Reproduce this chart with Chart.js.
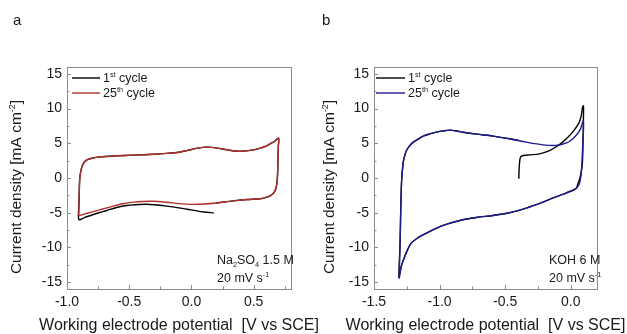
<!DOCTYPE html>
<html><head><meta charset="utf-8">
<script src="https://cdn.jsdelivr.net/npm/chart.js@4/dist/chart.umd.min.js"></script>
<style>
html,body{margin:0;padding:0;background:#fff;}
#wrap{position:relative;width:627px;height:334px;overflow:hidden;background:#fff;}
#ca{position:absolute;left:0;top:0;width:320px;height:334px;}
#cb{position:absolute;left:320px;top:0;width:307px;height:334px;}
</style></head><body>
<div id="wrap"><canvas id="ca" width="320" height="334"></canvas><canvas id="cb" width="307" height="334"></canvas></div>
<script>
// ---- Panel a: Na2SO4 1.5 M ----
const aX1 = [0.18,0.10,0.00,-0.10,-0.20,-0.30,-0.36,-0.45,-0.52,-0.60,-0.68,-0.75,-0.81,-0.86,-0.905,
  -0.903,-0.90,-0.897,-0.89,-0.88,-0.865,-0.84,-0.80,-0.735,-0.60,-0.467,-0.30,-0.199,-0.10,-0.038,0.05,0.123,0.20,0.284,0.35,0.417,0.50,0.551,0.60,0.632,0.67,0.70,
  0.698,0.695,0.692,0.688,0.68,0.667,0.64,0.60,0.551,0.45,0.336,0.20];
const aY1 = [-5.02,-4.9,-4.6,-4.3,-4.05,-3.85,-3.78,-3.85,-3.96,-4.25,-4.68,-5.05,-5.4,-5.7,-6.0,
  -3.5,-1.0,0.0,0.9,1.6,2.2,2.6,2.85,3.05,3.2,3.3,3.42,3.55,3.72,3.95,4.3,4.45,4.35,4.08,3.9,3.87,4.05,4.3,4.6,4.93,5.3,5.75,
  4.5,2.5,0.5,-0.6,-1.4,-2.0,-2.5,-2.8,-3.0,-3.1,-3.3,-3.6];
const aX25 = [-0.905,-0.903,-0.90,-0.897,-0.89,-0.88,-0.865,-0.84,-0.80,-0.735,-0.60,-0.467,-0.30,-0.199,-0.10,-0.038,0.05,0.123,0.20,0.284,0.35,0.417,0.50,0.551,0.60,0.632,0.67,0.70,
  0.698,0.695,0.692,0.688,0.68,0.667,0.64,0.60,0.551,0.45,0.336,0.20,0.10,0.00,-0.10,-0.199,-0.306,-0.40,-0.467,-0.55,-0.628,-0.70,-0.761,-0.83,-0.905];
const aY25 = [-5.45,-3.0,-1.0,0.0,0.9,1.6,2.2,2.6,2.85,3.05,3.2,3.3,3.42,3.55,3.72,3.95,4.3,4.45,4.35,4.08,3.9,3.87,4.05,4.3,4.6,4.93,5.3,5.75,
  4.5,2.5,0.5,-0.6,-1.4,-2.0,-2.5,-2.8,-3.0,-3.1,-3.3,-3.6,-3.75,-3.8,-3.7,-3.5,-3.35,-3.38,-3.48,-3.72,-4.05,-4.4,-4.7,-5.05,-5.45];

// ---- Panel b: KOH 6 M ----
const bX1 = [-0.396,-0.394,-0.39,-0.385,-0.376,-0.35,-0.315,-0.239,-0.162,-0.11,-0.062,-0.02,0.014,0.045,0.065,0.08,0.09,0.097,
  0.096,0.093,0.088,0.07,0.055,0.04,-0.011,-0.062,-0.14,-0.213,-0.34,-0.467,-0.593,-0.72,-0.846,-0.973,-1.074,-1.176,-1.22,-1.252,-1.275,-1.29,-1.30,-1.31,
  -1.307,-1.303,-1.299,-1.297,-1.294,-1.29,-1.284,-1.277,-1.265,-1.252,-1.23,-1.20,-1.16,-1.125,-1.075,-1.024,-0.97,-0.922,-0.87,-0.821,-0.72,-0.593,-0.467,-0.40];
const bY1 = [-0.1,1.2,2.29,2.9,3.15,3.28,3.34,3.48,3.96,4.5,5.17,5.9,6.61,7.4,8.05,9.0,10.2,10.4,
  8.0,5.0,2.0,0.0,-0.8,-1.56,-1.94,-2.37,-2.9,-3.48,-4.34,-5.01,-5.4,-5.69,-6.12,-6.84,-7.7,-8.76,-9.5,-10.68,-11.8,-12.6,-13.4,-14.3,
  -12.2,-10.2,-7.5,-5.4,-3.0,-0.6,1.0,2.29,3.3,3.96,4.6,5.17,5.65,6.04,6.35,6.61,6.8,6.9,6.78,6.6,6.32,6.04,5.65,5.45];
const bX25 = [-1.308,-1.305,-1.302,-1.299,-1.297,-1.294,-1.29,-1.284,-1.277,-1.265,-1.252,-1.23,-1.20,-1.16,-1.125,-1.075,-1.024,-0.97,-0.922,-0.87,-0.821,-0.72,-0.593,-0.467,-0.34,-0.213,-0.112,-0.036,0.0,0.04,0.07,0.096,
  0.095,0.09,0.085,0.078,0.07,0.06,0.04,0.014,-0.062,-0.14,-0.213,-0.34,-0.467,-0.593,-0.72,-0.846,-0.973,-1.074,-1.176,-1.22,-1.252,-1.275,-1.29,-1.30,-1.308];
const bY25 = [-14.5,-12.0,-10.2,-7.5,-5.4,-3.0,-0.6,1.0,2.29,3.3,3.96,4.6,5.17,5.65,6.04,6.35,6.61,6.8,6.9,6.78,6.6,6.32,6.04,5.65,5.17,4.78,4.69,5.03,5.4,6.13,6.9,8.2,
  6.0,4.2,2.0,0.36,-0.5,-1.08,-1.5,-1.8,-2.37,-2.9,-3.48,-4.34,-5.01,-5.4,-5.69,-6.12,-6.84,-7.7,-8.76,-9.5,-10.68,-11.8,-12.6,-13.6,-14.5];

// ---- ticks & labels ----
const yTicks = [-15,-10,-5,0,5,10,15];
const aXTicks = [-1.0,-0.5,0.0,0.5];
const bXTicks = [-1.5,-1.0,-0.5,0.0];
const seriesLabels = ['1st cycle','25th cycle'];
const xTitle = 'Working electrode potential  [V vs SCE]';

const FONT = "'Liberation Sans', Arial, Helvetica, sans-serif";
const TXT = '#1a1a1a';
const FRAME = '#8c8c8c';

function zip(xs, ys){ return xs.map((x,i)=>({x:x, y:ys[i]})); }

function richWidth(ctx, parts, size){
  let w=0;
  for(const p of parts){ const fs = p.m ? size*0.58 : size; ctx.font = fs+'px '+FONT; w += ctx.measureText(p.t).width; }
  return w;
}
function drawRich(ctx, parts, x, y, size, align){
  ctx.save();
  ctx.textBaseline='alphabetic';
  ctx.textAlign='left';
  ctx.fillStyle=TXT;
  let cx = x;
  if(align==='center') cx = x - richWidth(ctx, parts, size)/2;
  const base = y + size*0.35;
  for(const p of parts){
    const fs = p.m ? size*0.58 : size;
    ctx.font = fs+'px '+FONT;
    let dy = 0;
    if(p.m==='sup') dy = -size*0.42;
    if(p.m==='sub') dy = size*0.22;
    ctx.fillText(p.t, cx, base+dy);
    cx += ctx.measureText(p.t).width;
  }
  ctx.restore();
}

function makePanel(id, cfg){
  const deco = {
    id:'deco'+id,
    afterDraw(chart){
      const ctx = chart.ctx, a = chart.chartArea;
      const xs = chart.scales.x, ys = chart.scales.y;
      ctx.save();
      ctx.strokeStyle = FRAME; ctx.lineWidth = 1;
      ctx.strokeRect(Math.round(a.left)+0.5, Math.round(a.top)+0.5, Math.round(a.right-a.left), Math.round(a.bottom-a.top));
      // y ticks
      ctx.beginPath();
      const ystep = yTicks[1]-yTicks[0];
      for(const v of yTicks){
        const p = Math.round(ys.getPixelForValue(v))+0.5;
        ctx.moveTo(a.left, p); ctx.lineTo(a.left+4, p);
        const m = Math.round(ys.getPixelForValue(v+ystep/2))+0.5;
        if(v+ystep/2 < ys.max){ ctx.moveTo(a.left, m); ctx.lineTo(a.left+2.5, m); }
        if(v===yTicks[0]){ const m2 = Math.round(ys.getPixelForValue(v-ystep/2))+0.5; if(v-ystep/2>ys.min){ctx.moveTo(a.left,m2);ctx.lineTo(a.left+2.5,m2);} }
      }
      const xt = cfg.xTicks, xstep = xt[1]-xt[0];
      for(const v of xt){
        const p = Math.round(xs.getPixelForValue(v))+0.5;
        ctx.moveTo(p, a.bottom); ctx.lineTo(p, a.bottom-4);
        const mv = v+xstep/2;
        if(mv < xs.max){ const m = Math.round(xs.getPixelForValue(mv))+0.5; ctx.moveTo(m, a.bottom); ctx.lineTo(m, a.bottom-2.5); }
      }
      ctx.stroke();
      // legend
      const lg = cfg.legend;
      const cols = ['#000000', cfg.c25];
      const leg = [[{t:'1'},{t:'st',m:'sup'},{t:' cycle'}],[{t:'25'},{t:'th',m:'sup'},{t:' cycle'}]];
      for(let i=0;i<2;i++){
        const y = lg.y + i*lg.dy;
        ctx.strokeStyle = cols[i]; ctx.lineWidth = 1.4;
        ctx.beginPath(); ctx.moveTo(lg.x0, y); ctx.lineTo(lg.x1, y); ctx.stroke();
        drawRich(ctx, leg[i], lg.tx, y, 12.5, 'left');
      }
      // annotations
      drawRich(ctx, cfg.note1, cfg.noteX, cfg.noteY1, 12.5, 'left');
      drawRich(ctx, [{t:'20 mV s'},{t:'-1',m:'sup'}], cfg.noteX, cfg.noteY2, 12.5, 'left');
      // x title
      drawRich(ctx, [{t:xTitle}], (a.left+a.right)/2, 324, 16, 'center');
      // y title
      ctx.save();
      ctx.translate(cfg.yTitleX, cfg.yTitleY);
      ctx.rotate(-Math.PI/2);
      drawRich(ctx, [{t:'Current density [mA cm'},{t:'-2',m:'sup'},{t:']'}], 0, 0, 15.5, 'center');
      ctx.restore();
      // panel letter
      drawRich(ctx, [{t:cfg.letter}], cfg.letterX, 20, 15, 'left');
      ctx.restore();
    }
  };
  return new Chart(document.getElementById(id), {
    type:'scatter',
    data:{datasets:[
      {label:seriesLabels[0], data:zip(cfg.x1,cfg.y1), showLine:true, borderColor:'#000', backgroundColor:'#000', borderWidth:1.4, pointRadius:0, tension:0.3, order:1},
      {label:seriesLabels[1], data:zip(cfg.x25,cfg.y25), showLine:true, borderColor:cfg.c25, backgroundColor:cfg.c25, borderWidth:1.4, pointRadius:0, tension:0.3, order:0}
    ]},
    options:{
      responsive:false, animation:false, devicePixelRatio:1,
      layout:{padding:{top:67, right:cfg.padRight, left:0, bottom:0}},
      plugins:{legend:{display:false}, tooltip:{enabled:false}},
      scales:{
        x:{type:'linear', min:cfg.xMin, max:cfg.xMax,
          afterFit(s){ s.height = 45; },
          afterBuildTicks(s){ s.ticks = cfg.xTicks.map(v=>({value:v})); },
          ticks:{font:{family:FONT, size:14}, color:TXT, padding:5, autoSkip:false, maxRotation:0, callback:(v)=>Number(v).toFixed(1)},
          grid:{display:false, drawTicks:false}, border:{display:false},
          title:{display:false}
        },
        y:{type:'linear', min:-16, max:16,
          afterFit(s){ s.width = cfg.yWidth; },
          afterBuildTicks(s){ s.ticks = yTicks.map(v=>({value:v})); },
          ticks:{font:{family:FONT, size:14}, color:TXT, padding:5, autoSkip:false, callback:(v)=>String(v)},
          grid:{display:false, drawTicks:false}, border:{display:false}
        }
      }
    },
    plugins:[deco]
  });
}

makePanel('ca', {x1:aX1, y1:aY1, x25:aX25, y25:aY25, c25:'#b0302c', xMin:-1.0, xMax:0.8, xTicks:aXTicks,
  yWidth:67, padRight:29, legend:{x0:72, x1:100, tx:103, y:78, dy:15},
  note1:[{t:'Na'},{t:'2',m:'sub'},{t:'SO'},{t:'4',m:'sub'},{t:' 1.5 M'}], noteX:217, noteY1:260, noteY2:278,
  yTitleX:16, yTitleY:187, letter:'a', letterX:13});
makePanel('cb', {x1:bX1, y1:bY1, x25:bX25, y25:bY25, c25:'#1c1c8c', xMin:-1.5, xMax:0.2, xTicks:bXTicks,
  yWidth:54, padRight:30, legend:{x0:56, x1:85, tx:88, y:78, dy:15},
  note1:[{t:'KOH 6 M'}], noteX:229, noteY1:260, noteY2:278,
  yTitleX:9, yTitleY:187, letter:'b', letterX:2});
</script>
</body></html>
